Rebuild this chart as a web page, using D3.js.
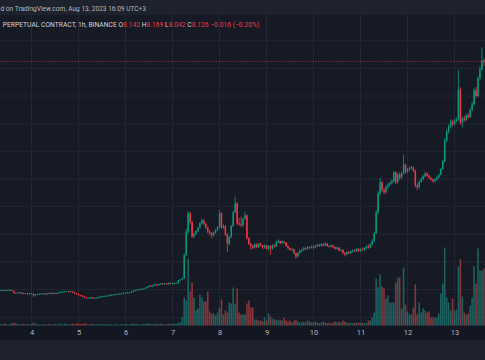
<!DOCTYPE html>
<html><head><meta charset="utf-8">
<script src="https://cdn.jsdelivr.net/npm/d3@7"></script>
<style>
html,body{margin:0;padding:0;background:#161a25;}
svg{display:block;}
text{font-family:Roboto,"Noto Sans",sans-serif;}
</style></head><body>
<svg id="c" width="485" height="360"></svg>
<script>
// ---- data (hourly candles, Aug 3 08:00 → Aug 13 15:00, UTC+3) ----
const firstOpen = 3.99;
const closes = [
3.99,3.99,3.98,3.99,3.99,3.99,3.98,3.94,3.94,3.95,3.94,3.93,3.94,3.93,3.92,3.93,
3.93,3.90,3.91,3.92,3.92,3.93,3.93,3.92,3.93,3.94,3.93,3.94,3.93,3.94,3.95,3.96,3.96,3.97,3.97,3.96,3.97,3.95,3.93,3.92,
3.90,3.89,3.88,3.86,3.85,3.85,3.86,3.84,3.85,3.85,3.86,3.87,3.88,3.88,3.89,3.89,3.90,3.91,3.91,3.92,3.92,3.93,3.93,3.94,
3.94,3.95,3.95,3.96,3.98,3.99,4.00,4.00,4.01,4.02,4.03,4.05,4.07,4.06,4.08,4.09,4.08,4.10,4.11,4.10,4.11,4.10,4.12,4.11,
4.11,4.12,4.12,4.17,4.18,4.20,4.63,5.05,
5.38,5.22,4.96,5.01,5.06,5.12,5.20,5.25,5.19,5.12,5.05,5.02,4.98,5.03,5.08,5.13,
5.38,5.12,5.15,5.00,4.83,4.95,5.15,5.40,5.56,5.20,5.18,5.16,5.28,5.34,4.93,4.83,4.79,4.76,4.82,
4.77,4.83,4.80,4.76,4.80,4.74,4.79,4.74,4.80,4.78,4.86,4.88,4.84,4.87,4.85,4.79,4.75,4.72,4.73,4.66,4.60,4.66,4.70,4.72,4.75,4.74,4.77,4.76,4.78,
4.76,4.79,4.81,4.79,4.82,4.80,4.83,4.79,4.78,4.80,4.77,4.74,4.76,4.71,4.72,4.66,4.64,4.68,4.66,4.69,4.71,4.70,4.74,4.70,
4.73,4.72,4.75,4.78,4.76,4.82,4.88,5.02,5.40,5.74,5.94,5.80,5.76,5.86,5.90,5.93,5.96,6.12,5.94,6.08,6.03,6.10,6.26,6.13,
6.17,6.20,6.21,6.15,5.88,5.85,5.95,6.00,6.05,6.10,6.06,6.02,5.99,5.96,5.99,6.03,6.08,6.18,6.32,6.70,6.86,6.95,7.04,6.99,
7.05,7.08,7.62,7.02,7.10,7.07,7.15,7.12,7.25,7.35,7.60,7.50,7.82,7.98,8.142,8.126
];
const highs = [
4.00,4.00,4.00,4.00,4.00,4.01,3.99,3.98,3.95,3.96,3.96,3.95,3.95,3.94,3.94,3.94,
3.94,3.93,3.92,3.93,3.93,3.94,3.94,3.94,3.94,3.95,3.95,3.95,3.94,3.95,3.96,3.97,3.97,3.98,3.98,3.98,3.98,3.97,3.96,3.94,
3.93,3.91,3.90,3.89,3.87,3.86,3.87,3.87,3.86,3.86,3.87,3.88,3.89,3.89,3.90,3.90,3.91,3.92,3.92,3.93,3.93,3.94,3.94,3.95,
3.95,3.96,3.96,3.97,3.99,4.00,4.01,4.02,4.02,4.03,4.04,4.06,4.08,4.08,4.09,4.11,4.10,4.11,4.12,4.12,4.12,4.12,4.13,4.13,
4.12,4.13,4.13,4.18,4.19,4.22,4.66,5.10,
5.42,5.40,5.25,5.03,5.08,5.14,5.22,5.29,5.27,5.21,5.14,5.08,5.04,5.05,5.10,5.15,
5.44,5.40,5.18,5.17,5.02,4.97,5.17,5.43,5.68,5.58,5.30,5.32,5.30,5.41,5.36,4.95,4.85,4.81,4.84,
4.84,4.85,4.85,4.81,4.82,4.81,4.81,4.80,4.82,4.82,4.88,4.91,4.89,4.89,4.88,4.86,4.80,4.76,4.75,4.74,4.67,4.68,4.72,4.74,4.77,4.77,4.79,4.78,4.80,
4.80,4.81,4.83,4.83,4.84,4.84,4.86,4.84,4.81,4.82,4.81,4.78,4.78,4.77,4.74,4.73,4.68,4.70,4.70,4.71,4.73,4.73,4.76,4.75,
4.75,4.76,4.77,4.80,4.82,4.84,4.91,5.05,5.44,5.78,6.02,5.97,5.84,5.89,5.93,5.96,6.00,6.15,6.14,6.11,6.12,6.13,6.44,6.28,
6.20,6.23,6.24,6.23,6.17,5.92,5.97,6.03,6.08,6.13,6.12,6.08,6.04,6.01,6.01,6.05,6.10,6.20,6.35,6.74,6.90,6.99,7.08,7.07,
7.08,7.11,7.97,7.66,7.13,7.14,7.18,7.19,7.28,7.40,7.64,7.66,7.86,8.04,8.38,8.169
];
const lows = [
3.98,3.98,3.97,3.97,3.98,3.98,3.97,3.93,3.93,3.93,3.93,3.92,3.92,3.92,3.91,3.91,
3.92,3.87,3.89,3.90,3.91,3.91,3.92,3.91,3.91,3.92,3.92,3.92,3.92,3.92,3.93,3.94,3.95,3.95,3.96,3.95,3.95,3.94,3.92,3.91,
3.89,3.88,3.87,3.85,3.84,3.84,3.84,3.83,3.83,3.84,3.84,3.85,3.86,3.87,3.87,3.88,3.88,3.89,3.90,3.90,3.91,3.91,3.92,3.92,
3.93,3.93,3.94,3.94,3.95,3.97,3.98,3.99,3.99,4.00,4.01,4.02,4.04,4.05,4.05,4.07,4.07,4.07,4.09,4.09,4.09,4.09,4.09,4.10,
4.10,4.10,4.11,4.11,4.16,4.17,4.19,4.60,
5.00,5.18,4.93,4.93,4.99,5.04,5.10,5.18,5.16,5.10,5.02,4.98,4.93,4.96,5.01,5.06,
5.11,5.10,5.09,4.97,4.68,4.80,4.93,5.13,5.38,5.17,5.15,5.13,5.14,5.26,4.90,4.80,4.72,4.73,4.74,
4.75,4.75,4.78,4.73,4.74,4.72,4.70,4.63,4.72,4.76,4.77,4.84,4.82,4.82,4.83,4.77,4.73,4.70,4.70,4.64,4.55,4.58,4.64,4.68,4.70,4.72,4.72,4.74,4.74,
4.74,4.75,4.77,4.77,4.78,4.78,4.79,4.77,4.76,4.76,4.75,4.72,4.72,4.69,4.69,4.64,4.60,4.62,4.64,4.64,4.67,4.68,4.68,4.68,
4.68,4.70,4.70,4.73,4.74,4.75,4.80,4.86,5.00,5.36,5.70,5.76,5.72,5.74,5.82,5.87,5.90,5.94,5.91,5.92,5.98,6.00,6.08,6.10,
6.10,6.14,6.17,6.12,5.85,5.80,5.83,5.93,5.98,6.03,6.04,6.00,5.97,5.93,5.94,5.97,6.01,6.06,6.16,6.30,6.66,6.82,6.92,6.95,
6.96,7.02,7.05,6.98,6.93,7.03,7.05,7.09,7.10,7.22,7.32,7.46,7.48,7.78,7.95,8.042
];
const volumes = [
1.5,1,2,1.5,1,1.5,2,3,2,1.5,1,1.5,2,1,1.5,1,
1.5,3,2,1.5,1,1,1.5,1,1,1.5,1,1,1.5,1,2,1.5,1,2,1.5,1,1.5,2,1.5,2,
2,1.5,1.5,2,2,1,1.5,2,1,1,1.5,1.5,1,1.5,1,1,1.5,1,1,1.5,1,1,1.5,1,
1.5,1,1,1.5,2,1.5,1.5,1,1,1.5,1.5,2,2,1.5,1.5,2,1.5,1.5,2,1.5,1,1.5,2,1.5,
1.5,2,1.5,3,3,8,28,25,
67,34,43,28,15,17,31,28,24,24,34,14,12,12,10,13,
18,26,11,15,13,23,22,38,22,37,13,11,11,11,22,25,18,18,6,
6,5,5,4,8,5,12,9,7,6,6,5,6,5,8,5,4,5,3,5,6,4,3,3,4,3,5,4,3,
3,4,3,2.5,3,4,3,2.5,3,2,3,4,3,4,3,5,4,3,2.5,3,2,3,2.5,3,
2.5,3,2.5,2.3,5,5,8,13,47,38,51,39,37,27,30,23,23,23,43,48,48,17,58,21,
14,11,11,18,41,11,23,13,17,15,13,14,8,8,8,8,12,32,42,78,28,23,15,27,
15,16,59,66,29,13,11,12,20,28,59,42,77,55,55,57
];
const dayTickLabels = ["4","5","6","7","8","9","10","11","12","13"];
const headerText = "d on TradingView.com, Aug 13, 2023 16:09 UTC+3";
const legendTitle = "PERPETUAL CONTRACT, 1h, BINANCE";
const legendKeys = ["O","H","L","C"];
const legendValues = ["8.142","8.169","8.042","8.126"];
const legendChange = "\u22120.016 (\u22120.20%)";
const lastPrice = 8.126;

// ---- layout ----
const W = 485, H = 360;
const paneTop = 15, paneBottom = 326, axisBottom = 340;
const GREEN = "#089981", RED = "#f23645";
const VGREEN = "#26a69a", VRED = "#ef5350";

const svg = d3.select("#c");
const startTime = Date.UTC(2023, 7, 3, 8);
const data = closes.map((c, i) => ({
  t: new Date(startTime + i * 3600e3),
  o: i === 0 ? firstOpen : closes[i - 1],
  h: highs[i], l: lows[i], c, v: volumes[i]
}));

const x = d3.scaleUtc()
  .domain([new Date(Date.UTC(2023, 7, 4)), new Date(Date.UTC(2023, 7, 13))])
  .range([31.5, 454.5]);
const y = d3.scaleLinear().domain([3.5, 8.5]).range([317.3, 40.7]);
const yv = d3.scaleLinear().domain([0, 80]).range([325.5, 245.5]);
const dayDates = dayTickLabels.map(d => new Date(Date.UTC(2023, 7, +d)));

// backgrounds
svg.append("rect").attr("x",0).attr("y",0).attr("width",W).attr("height",H).attr("fill","#1e222d");
svg.append("rect").attr("x",0).attr("y",paneTop).attr("width",W).attr("height",paneBottom-paneTop).attr("fill","#161a25");
svg.append("rect").attr("x",0).attr("y",paneBottom).attr("width",W).attr("height",axisBottom-paneBottom).attr("fill","#131722");

svg.append("clipPath").attr("id","pane").append("rect")
  .attr("x",0).attr("y",paneTop).attr("width",W).attr("height",paneBottom-paneTop);
const pane = svg.append("g").attr("clip-path","url(#pane)");

// grid
pane.append("g").selectAll("line").data(y.ticks(10)).join("line")
  .attr("x1",0).attr("x2",W).attr("y1",d=>y(d)).attr("y2",d=>y(d))
  .attr("stroke","#222632").attr("stroke-width",1);
pane.append("g").selectAll("line").data(dayDates).join("line")
  .attr("x1",d=>x(d)).attr("x2",d=>x(d)).attr("y1",paneTop).attr("y2",paneBottom)
  .attr("stroke","#222632").attr("stroke-width",1);

// volume
pane.append("g").selectAll("rect").data(data).join("rect")
  .attr("x", d => x(d.t) - 0.8).attr("width", 1.6)
  .attr("y", d => yv(d.v)).attr("height", d => yv(0) - yv(d.v))
  .attr("fill", d => d.c >= d.o ? VGREEN : VRED).attr("fill-opacity", 0.5);

// last price line
pane.append("line").attr("x1",0).attr("x2",W).attr("y1",y(lastPrice)).attr("y2",y(lastPrice))
  .attr("stroke",RED).attr("stroke-opacity",0.55).attr("stroke-width",1).attr("stroke-dasharray","1.5,1.5");

// candles
const cg = pane.append("g");
cg.selectAll("line").data(data).join("line")
  .attr("x1", d => x(d.t)).attr("x2", d => x(d.t))
  .attr("y1", d => y(d.h)).attr("y2", d => y(d.l))
  .attr("stroke", d => d.c >= d.o ? GREEN : RED).attr("stroke-width", 0.8);
cg.selectAll("rect").data(data).join("rect")
  .attr("x", d => x(d.t) - 0.75).attr("width", 1.5)
  .attr("y", d => y(Math.max(d.o, d.c)))
  .attr("height", d => Math.max(0.8, Math.abs(y(d.o) - y(d.c))))
  .attr("fill", d => d.c >= d.o ? GREEN : RED);

// time axis
const ax = svg.append("g").attr("transform", `translate(0,${paneBottom})`)
  .call(d3.axisBottom(x).tickValues(dayDates).tickFormat((d,i)=>dayTickLabels[i]).tickSize(0).tickPadding(4));
ax.select(".domain").remove();
ax.selectAll("text").attr("fill","#b2b5be").style("font-size","7.5px").style("font-family","Roboto,'Noto Sans',sans-serif");

// horizontally condensed text line (the reference screenshot is squeezed)
function squeezedLine(x0, yBase, targetWidth, size, build) {
  const g = svg.append("g");
  const t = g.append("text").attr("x", 0).attr("y", 0).style("font-size", size + "px");
  build(t);
  const w = t.node().getComputedTextLength();
  g.attr("transform", `translate(${x0},${yBase}) scale(${targetWidth / w},1)`);
}

// header
squeezedLine(0.5, 10.6, 145.5, 7.2, t => t.attr("fill", "#b2b5be").text(headerText));

// legend
squeezedLine(2.7, 26.6, 257, 7.6, t => {
  t.append("tspan").attr("fill", "#d1d4dc").text(legendTitle + "  ");
  legendKeys.forEach((k, i) => {
    t.append("tspan").attr("fill", "#d1d4dc").text(k);
    t.append("tspan").attr("fill", RED).text(legendValues[i] + "  ");
  });
  t.append("tspan").attr("fill", RED).text(legendChange);
});
</script>
</body></html>
